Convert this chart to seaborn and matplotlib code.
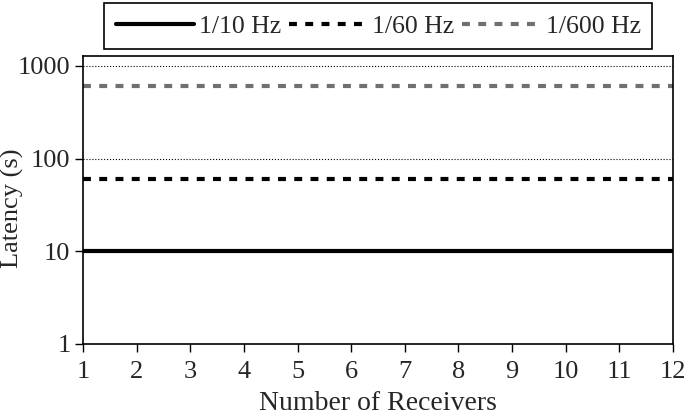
import matplotlib
matplotlib.use("Agg")
import matplotlib.pyplot as plt
import matplotlib.ticker as mticker
import seaborn as sns
import pandas as pd

receivers = list(range(1, 13))
lat_10hz = [10] * 12
lat_60hz = [60] * 12
lat_600hz = [600] * 12
series_names = ["1/10 Hz", "1/60 Hz", "1/600 Hz"]
y_ticks = [1, 10, 100, 1000]

df = pd.DataFrame({
    "receivers": receivers * 3,
    "latency": lat_10hz + lat_60hz + lat_600hz,
    "rate": [series_names[0]] * 12 + [series_names[1]] * 12 + [series_names[2]] * 12,
})

sns.set_style("ticks")
plt.rcParams["font.family"] = ["Liberation Serif", "DejaVu Serif"]

fig = plt.figure(figsize=(6.85, 4.16), dpi=100)
ax = fig.add_axes([0.1212, 0.1731, 0.8613, 0.6923])

sns.lineplot(data=df, x="receivers", y="latency", hue="rate", style="rate",
             palette=["black", "black", "#707070"],
             dashes=[(), (1.9, 2.0), (1.9, 2.0)],
             linewidth=3.0, ax=ax, legend=True)

ax.set_yscale("log")
ax.set_ylim(1, 1280)
ax.set_xlim(1, 12)
ax.set_xticks(receivers)
ax.set_yticks(y_ticks)
ax.yaxis.set_major_formatter(mticker.FuncFormatter(lambda v, p: f"{int(v)}"))
ax.yaxis.set_minor_locator(mticker.NullLocator())
ax.yaxis.grid(True, linestyle=":", color="black", linewidth=0.8)
ax.set_axisbelow(True)

ax.tick_params(labelsize=19, direction="out", length=6, width=1, color="black")
ax.tick_params(axis="x", pad=6)
ax.tick_params(axis="y", pad=3)
ax.set_xlabel("Number of Receivers", fontsize=20, va="top")
ax.set_ylabel("Latency (s)", fontsize=19)
ax.xaxis.set_label_coords(0.5, -0.163)
ax.yaxis.set_label_coords(-0.10, 0.47)
for s in ax.spines.values():
    s.set_color("black")
    s.set_linewidth(1.2)

handles, labels = ax.get_legend_handles_labels()
ax.legend(handles, labels, loc="lower left", bbox_to_anchor=(0.0356, 1.024, 0.929, 0.1),
          mode="expand", ncol=3, fontsize=18.5, frameon=True, fancybox=False,
          edgecolor="black", framealpha=1, handlelength=3.05, handletextpad=0.2,
          columnspacing=0.0, borderpad=0.45, borderaxespad=0)
ax.get_legend().get_frame().set_linewidth(1.2)

fig.savefig("out.png", dpi=100)
